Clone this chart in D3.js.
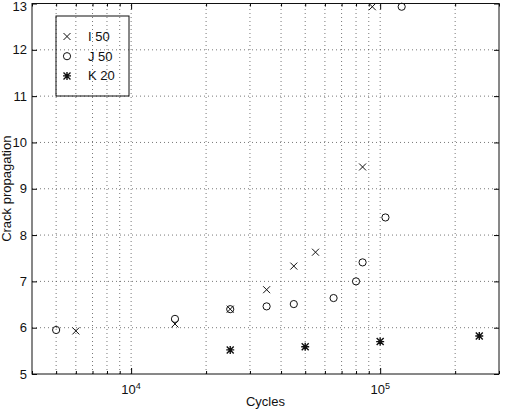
<!DOCTYPE html>
<html>
<head>
<meta charset="utf-8">
<script src="https://cdn.jsdelivr.net/npm/d3@7"></script>
<style>
  body { margin: 0; background: #fff; }
  text { font-family: "Liberation Sans", Arial, Helvetica, sans-serif; fill: #111; }
</style>
</head>
<body>
<div id="chart"></div>
<script>
// series
let seriesNames = ["I 50", "J 50", "K 20"];

let iCycles = [6000, 15000, 25000, 35000, 45000, 55000, 85000, 93000];
let iCrack  = [5.93, 6.08, 6.40, 6.82, 7.33, 7.63, 9.47, 12.93];

let jCycles = [5000, 15000, 25000, 35000, 45000, 65000, 80000, 85000, 105000, 122000];
let jCrack  = [5.95, 6.19, 6.40, 6.46, 6.51, 6.64, 7.00, 7.41, 8.38, 12.93];

let kCycles = [25000, 50000, 100000, 250000];
let kCrack  = [5.52, 5.59, 5.70, 5.82];

let xDomain = [4000, 300000];
let yTicks = [5, 6, 7, 8, 9, 10, 11, 12, 13];
let xMajor = [1e4, 1e5];

let width = 506,
  height = 415;

let margin = {top: 3.5, right: 7, bottom: 41, left: 32};

let x = d3.scaleLog()
  .domain(xDomain)
  .range([margin.left, width - margin.right]);

let y = d3.scaleLinear()
  .domain([5, 13])
  .range([height - margin.bottom, margin.top]);

// marker shapes, MATLAB style
let marker = {
  "I 50": (g) => {
    const s = 3.5;
    g.append('path')
      .attr('d', `M${-s},${-s}L${s},${s}M${-s},${s}L${s},${-s}`)
      .attr('stroke', '#111').attr('stroke-width', 1).attr('fill', 'none');
  },
  "J 50": (g) => {
    g.append('circle')
      .attr('r', 3.6)
      .attr('stroke', '#111').attr('stroke-width', 1).attr('fill', 'none');
  },
  "K 20": (g) => {
    const s = 3.5, t = 4;
    g.append('path')
      .attr('d', `M${-s},${-s}L${s},${s}M${-s},${s}L${s},${-s}M${-t},0L${t},0M0,${-t}L0,${t}`)
      .attr('stroke', '#111').attr('stroke-width', 1.4).attr('fill', 'none');
  }
};

function chart() {
  const svg = d3.select('#chart').append('svg')
    .attr('width', width)
    .attr('height', height)
    .style('font', '13px "Liberation Sans", Arial, sans-serif');

  const x0 = margin.left, x1 = width - margin.right;
  const y0 = height - margin.bottom, y1 = margin.top;

  // grid (dotted)
  const grid = svg.append('g')
    .attr('stroke', '#555')
    .attr('stroke-width', 0.8)
    .attr('stroke-dasharray', '1,3');

  const xGrid = x.ticks().filter(d => d > xDomain[0] && d < xDomain[1]);
  grid.selectAll('line.vx')
    .data(xGrid)
    .enter().append('line')
      .attr('x1', d => x(d)).attr('x2', d => x(d))
      .attr('y1', y0).attr('y2', y1);

  grid.selectAll('line.hy')
    .data(yTicks.slice(1, -1))
    .enter().append('line')
      .attr('x1', x0).attr('x2', x1)
      .attr('y1', d => y(d)).attr('y2', d => y(d));

  // axes, ticks pointing inward
  svg.append('g')
    .attr('transform', `translate(${x0},0)`)
    .call(d3.axisLeft(y).tickValues(yTicks).tickSize(-5).tickPadding(5))
    .call(g => g.select('.domain').remove())
    .call(g => g.selectAll('text').style('font-size', '13px'))
    // top label would be clipped by the page edge, nudge it down a little
    .call(g => g.selectAll('text').filter(d => d === 13).attr('dy', '0.55em'));

  svg.append('g')
    .attr('transform', `translate(${x1},0)`)
    .call(d3.axisRight(y).tickValues(yTicks).tickSize(-5).tickFormat(''))
    .call(g => g.select('.domain').remove());

  const minor = x.ticks().filter(d => !xMajor.includes(d));

  [[y0, d3.axisBottom], [y1, d3.axisTop]].forEach(([pos, axis]) => {
    svg.append('g')
      .attr('transform', `translate(0,${pos})`)
      .call(axis(x).tickValues(xMajor).tickSize(-6).tickFormat(''))
      .call(g => g.select('.domain').remove());
    svg.append('g')
      .attr('transform', `translate(0,${pos})`)
      .call(axis(x).tickValues(minor).tickSize(-3).tickFormat(''))
      .call(g => g.select('.domain').remove());
  });

  // x tick labels as 10^n
  const xl = svg.append('g').selectAll('text')
    .data(xMajor)
    .enter().append('text')
      .attr('x', d => x(d))
      .attr('y', y0 + 20)
      .attr('text-anchor', 'middle')
      .style('font-size', '13px');
  xl.append('tspan').text('10');
  xl.append('tspan')
    .attr('dy', '-0.6em')
    .style('font-size', '9px')
    .text(d => Math.round(Math.log10(d)));

  // frame
  svg.append('rect')
    .attr('x', x0).attr('y', y1)
    .attr('width', x1 - x0).attr('height', y0 - y1)
    .attr('fill', 'none')
    .attr('stroke', '#111')
    .attr('stroke-width', 1);

  // points
  const series = [
    {name: seriesNames[0], xs: iCycles, ys: iCrack},
    {name: seriesNames[1], xs: jCycles, ys: jCrack},
    {name: seriesNames[2], xs: kCycles, ys: kCrack}
  ];

  series.forEach(s => {
    svg.append('g').selectAll('g')
      .data(s.xs.map((v, i) => [v, s.ys[i]]))
      .enter().append('g')
        .attr('transform', d => `translate(${x(d[0])},${y(d[1])})`)
        .each(function() { marker[s.name](d3.select(this)); });
  });

  // legend (transparent, grid shows through as in the original)
  const lg = svg.append('g');
  lg.append('rect')
    .attr('x', 56).attr('y', 16)
    .attr('width', 73).attr('height', 80)
    .attr('fill', 'none')
    .attr('stroke', '#111')
    .attr('stroke-width', 1);

  const item = lg.selectAll('g')
    .data(seriesNames)
    .enter().append('g')
      .attr('transform', (d, i) => `translate(67,${36.5 + i * 19.7})`);
  item.each(function(d) { marker[d](d3.select(this)); });
  item.append('text')
    .attr('x', 21)
    .attr('dy', '0.35em')
    .style('font-size', '13px')
    .text(d => d);

  // axis titles
  svg.append('text')
    .attr('x', (x0 + x1) / 2)
    .attr('y', 406)
    .attr('text-anchor', 'middle')
    .style('font-size', '13px')
    .text('Cycles');

  svg.append('text')
    .attr('transform', `translate(11,${(y0 + y1) / 2}) rotate(-90)`)
    .attr('text-anchor', 'middle')
    .style('font-size', '13px')
    .text('Crack propagation');

  return svg.node();
}

chart();
</script>
</body>
</html>
